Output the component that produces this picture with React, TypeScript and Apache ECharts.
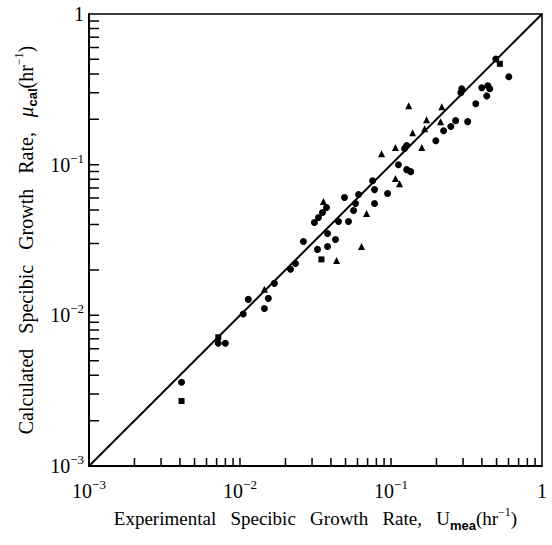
import React, { useEffect, useRef } from "react";
import * as echarts from "echarts";

// Decade tick values and labels
const decadeValues = [0.001, 0.01, 0.1, 1];
const decadeExponents = ["−3", "−2", "−1", ""];
// Tick positions (2..9 in each decade, plus decades)
const tickPositions = [
  0.002, 0.003, 0.004, 0.005, 0.006, 0.007, 0.008, 0.009,
  0.01, 0.02, 0.03, 0.04, 0.05, 0.06, 0.07, 0.08, 0.09,
  0.1, 0.2, 0.3, 0.4, 0.5, 0.6, 0.7, 0.8, 0.9,
];

// Diagonal (y = x)
const diagonal = [
  [0.001, 0.001],
  [1, 1],
];

// Circles: [experimental, calculated]
const circles = [
  [0.0041, 0.0036],
  [0.00718, 0.00653],
  [0.008, 0.00653],
  [0.0105, 0.0102],
  [0.01135, 0.01276],
  [0.0154, 0.01296],
  [0.0145, 0.0111],
  [0.0169, 0.0163],
  [0.0216, 0.0202],
  [0.0233, 0.0221],
  [0.0263, 0.0309],
  [0.0326, 0.0274],
  [0.038, 0.0286],
  [0.0429, 0.0319],
  [0.038, 0.0349],
  [0.0311, 0.0413],
  [0.0331, 0.0446],
  [0.0352, 0.0481],
  [0.0374, 0.0519],
  [0.0449, 0.0419],
  [0.0523, 0.0419],
  [0.0492, 0.0605],
  [0.061, 0.0633],
  [0.0582, 0.0552],
  [0.0565, 0.0496],
  [0.0778, 0.0552],
  [0.0778, 0.0683],
  [0.0755, 0.0783],
  [0.0949, 0.0643],
  [0.112, 0.1],
  [0.123, 0.128],
  [0.127, 0.134],
  [0.127, 0.0927],
  [0.135, 0.0899],
  [0.198, 0.144],
  [0.223, 0.168],
  [0.249, 0.179],
  [0.268, 0.196],
  [0.322, 0.193],
  [0.364, 0.254],
  [0.294, 0.319],
  [0.29, 0.3],
  [0.399, 0.324],
  [0.4375, 0.334],
  [0.451, 0.319],
  [0.431, 0.286],
  [0.603, 0.383],
  [0.494, 0.503],
];

// Squares
const squares = [
  [0.0041, 0.0027],
  [0.00718, 0.00715],
  [0.0346, 0.0235],
  [0.526, 0.467],
];

// Triangles
const triangles = [
  [0.0145, 0.0149],
  [0.0357, 0.0569],
  [0.0689, 0.0474],
  [0.0638, 0.0286],
  [0.0436, 0.0231],
  [0.0866, 0.118],
  [0.107, 0.13],
  [0.107, 0.0808],
  [0.114, 0.0748],
  [0.131, 0.246],
  [0.139, 0.163],
  [0.16, 0.13],
  [0.167, 0.173],
  [0.172, 0.199],
  [0.213, 0.193],
  [0.217, 0.242],
];

const SERIF = "Liberation Serif";

export default function App() {
  const ref = useRef<HTMLDivElement>(null);

  useEffect(() => {
    if (!ref.current) return;
    const chart = echarts.init(ref.current, undefined, { renderer: "svg" });

    const labelFmt = (v: number) => {
      let idx = 0;
      let best = Infinity;
      decadeValues.forEach((dv, i) => {
        const diff = Math.abs(Math.log10(v) - Math.log10(dv));
        if (diff < best) {
          best = diff;
          idx = i;
        }
      });
      const ex = decadeExponents[idx];
      return ex === "" ? "{b|1}" : `{b|10}{s|${ex}}`;
    };

    const labelRich = {
      b: { fontFamily: SERIF, fontSize: 20, color: "#000", lineHeight: 26 },
      s: {
        fontFamily: SERIF,
        fontSize: 13,
        color: "#000",
        lineHeight: 13,
        verticalAlign: "top",
      },
    };

    const makeNameRich = (size: number) => ({
      t: { fontFamily: SERIF, fontSize: size, color: "#000", lineHeight: 26 },
      mu: {
        fontFamily: SERIF,
        fontSize: size + 1,
        fontStyle: "italic",
        color: "#000",
        lineHeight: 26,
      },
      sub: {
        fontFamily: "Liberation Sans",
        fontWeight: "bold",
        fontSize: 13,
        color: "#000",
        lineHeight: 13,
        verticalAlign: "bottom",
      },
      sup: {
        fontFamily: SERIF,
        fontSize: 12,
        color: "#000",
        lineHeight: 12,
        verticalAlign: "top",
      },
    });

    const axisCommon = {
      type: "log" as const,
      logBase: 10,
      min: 0.001,
      max: 1,
      splitLine: { show: false },
      axisLine: { show: true, lineStyle: { color: "#000", width: 2 } },
      axisTick: { show: false },
      axisLabel: {
        formatter: labelFmt,
        rich: labelRich,
        color: "#000",
      },
      nameLocation: "middle" as const,
    };

    // Tick marks drawn as broken line segments through the log axes' own scale.
    // Lengths expressed in decades (plot is ~151 px per decade).
    const axisMin = 0.001;
    const xTickEnd = axisMin * Math.pow(10, 8 / 151);
    const yTickEnd = axisMin * Math.pow(10, 10 / 151);
    const xTickSegs: any[] = [];
    tickPositions.forEach((v) => {
      xTickSegs.push([v, axisMin], [v, xTickEnd], [v, "-"]);
    });
    const yTickSegs: any[] = [];
    tickPositions.forEach((v) => {
      yTickSegs.push([axisMin, v], [yTickEnd, v], ["-", v]);
    });

    const tickLineSeries = (data: any[]) => ({
      type: "line",
      data,
      symbol: "none",
      showSymbol: false,
      connectNulls: false,
      clip: false,
      silent: true,
      lineStyle: { color: "#000", width: 1.5 },
      z: 4,
    });

    chart.setOption({
      animation: false,
      backgroundColor: "#fff",
      grid: {
        left: 89,
        right: 10,
        top: 14,
        bottom: 79,
        show: true,
        borderColor: "#000",
        borderWidth: 1.5,
        backgroundColor: "transparent",
      },
      xAxis: {
        ...axisCommon,
        name: "{t|Experimental   Specibic   Growth   Rate,   U}{sub|mea}{t|(hr}{sup|−1}{t|)}",
        nameGap: 36,
        nameTextStyle: { rich: makeNameRich(19) },
        axisLabel: { ...axisCommon.axisLabel, margin: 12 },
      },
      yAxis: {
        ...axisCommon,
        name: "{t|Calculated   Specibic   Growth   Rate,   }{mu|μ}{sub|cal}{t|(hr}{sup|−1}{t|)}",
        nameGap: 45,
        nameTextStyle: { rich: makeNameRich(20) },
        axisLabel: { ...axisCommon.axisLabel, margin: 5 },
      },
      series: [
        {
          type: "line",
          data: diagonal,
          symbol: "none",
          lineStyle: { color: "#000", width: 2 },
          z: 1,
        },
        {
          type: "scatter",
          data: circles,
          symbol: "circle",
          symbolSize: 7,
          itemStyle: { color: "#000", opacity: 1 },
        },
        {
          type: "scatter",
          data: squares,
          symbol: "rect",
          symbolSize: 6,
          itemStyle: { color: "#000", opacity: 1 },
        },
        {
          type: "scatter",
          data: triangles,
          symbol: "triangle",
          symbolSize: 7,
          itemStyle: { color: "#000", opacity: 1 },
        },
        tickLineSeries(xTickSegs),
        tickLineSeries(yTickSegs),
      ],
    });

    return () => chart.dispose();
  }, []);

  return <div ref={ref} style={{ width: 552, height: 545, position: "absolute", left: 0, top: 0 }} />;
}
